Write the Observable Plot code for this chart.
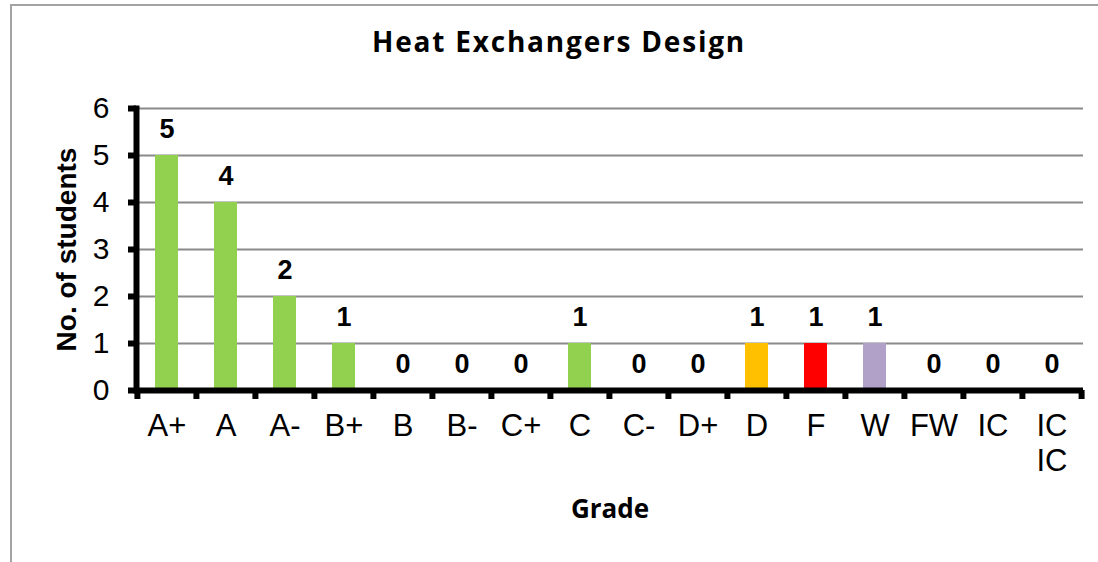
<!DOCTYPE html>
<html>
<head>
<meta charset="utf-8">
<script src="https://cdn.jsdelivr.net/npm/d3@7"></script>
<script src="https://cdn.jsdelivr.net/npm/@observablehq/plot@0.6"></script>
<style>
  html, body { margin: 0; padding: 0; background: #fff; }
  #wrap { position: relative; width: 1098px; height: 562px; overflow: hidden; background: #fff; }
  #border { position: absolute; left: 10px; top: 4px; right: -20px; bottom: -20px;
            border-top: 2px solid #a3a3a3; border-left: 2px solid #a3a3a3; }
  #title { position: absolute; left: 11px; width: 1096px; top: 27px; text-align: center;
           font-family: "Open Sans", sans-serif; font-weight: bold; font-size: 28px; letter-spacing: 1.8px;
           line-height: 1; color: #000; }
  #chart { position: absolute; left: 0; top: 0; }
</style>
</head>
<body>
<div id="wrap">
  <div id="border"></div>
  <div id="chart"></div>
  <div id="title">Heat Exchangers Design</div>
</div>
<script>
const grades = ["A+", "A", "A-", "B+", "B", "B-", "C+", "C", "C-", "D+", "D", "F", "W", "FW", "IC", "IC IC"];
const counts = [5, 4, 2, 1, 0, 0, 0, 1, 0, 0, 1, 1, 1, 0, 0, 0];
const barColors = ["#92D050", "#92D050", "#92D050", "#92D050", "#92D050", "#92D050", "#92D050", "#92D050",
                   "#92D050", "#92D050", "#FFC000", "#FF0000", "#B1A0C7", "#92D050", "#92D050", "#92D050"];
const yTicks = [0, 1, 2, 3, 4, 5, 6];
const yTitle = "No. of students";
const xTitle = "Grade";

const data = grades.map((g, i) => ({grade: g, count: counts[i], color: barColors[i]}));

const W = 1098, H = 562;
const mL = 136, mR = 15, mT = 108, mB = 172;
const step = (W - mL - mR) / grades.length;

const chart = Plot.plot({
  width: W,
  height: H,
  marginLeft: mL,
  marginRight: mR,
  marginTop: mT,
  marginBottom: mB,
  style: {fontFamily: "'Liberation Sans', Arial, sans-serif", color: "#000", background: "transparent", overflow: "visible"},
  x: {type: "band", domain: grades, paddingInner: 0.61, paddingOuter: 0.305},
  y: {domain: [0, 6]},
  marks: [
    Plot.gridY(yTicks, {stroke: "#8a8a8a", strokeOpacity: 1, strokeWidth: 2}),
    Plot.barY(data, {x: "grade", y: "count", fill: "color"}),
    Plot.ruleY([0], {stroke: "#000", strokeWidth: 6}),
    Plot.frame({anchor: "left", stroke: "#000", strokeWidth: 6}),
    Plot.axisY(yTicks, {tickSize: 8, tickPadding: 19, strokeWidth: 6, stroke: "#000", fontSize: 30, label: null}),
    Plot.axisX({tickSize: 0, tickPadding: 20, fontSize: 31, label: null, lineHeight: 1.15,
                tickFormat: d => d.replace(" ", "\n")}),
    Plot.axisX(grades, {tickSize: 9, tickFormat: () => "", dx: -step / 2, strokeWidth: 6, stroke: "#000", label: null}),
    Plot.axisX([grades[grades.length - 1]], {tickSize: 9, tickFormat: () => "", dx: step / 2, strokeWidth: 6, stroke: "#000", label: null}),
    Plot.text(data, {x: "grade", y: "count", text: d => String(d.count), dy: -26, fontSize: 27, fontWeight: "bold", fill: "#000"}),
    Plot.text([yTitle], {frameAnchor: "left", textAnchor: "middle", dx: -69, rotate: -90, fontSize: 28, fontWeight: "bold", fill: "#000"}),
    Plot.text([xTitle], {frameAnchor: "bottom", dy: 127, fontSize: 26, fontWeight: "bold", fontFamily: "'Open Sans', sans-serif", fill: "#000"})
  ]
});
document.getElementById("chart").appendChild(chart);
</script>
</body>
</html>
